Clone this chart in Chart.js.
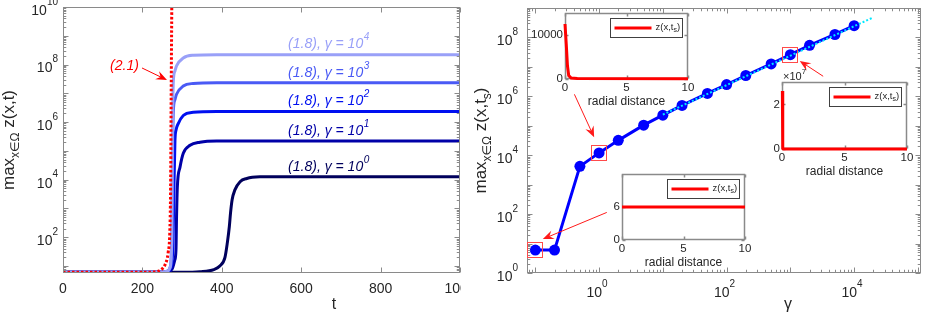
<!DOCTYPE html>
<html>
<head>
<meta charset="utf-8">
<script src="https://cdn.jsdelivr.net/npm/chart.js@4.4.1/dist/chart.umd.min.js"></script>
<style>
  html, body { margin: 0; padding: 0; background: #fff; }
  #wrap { position: relative; width: 926px; height: 313px; overflow: hidden; }
  canvas { position: absolute; }
</style>
</head>
<body>
<div id="wrap">
  <canvas id="left" width="461" height="313" style="left:0;top:0"></canvas>
  <canvas id="right" width="466" height="313" style="left:460px;top:0"></canvas>
  <canvas id="in1" width="165" height="115" style="left:530px;top:0"></canvas>
  <canvas id="in2" width="156" height="115" style="left:770px;top:65px"></canvas>
  <canvas id="in3" width="155" height="110" style="left:600px;top:165px"></canvas>
</div>
<script>
// ---- left panel: max z(x,t) against t, one curve per gamma ----
const tG0 = [0, 300, 345, 380, 395, 408, 414, 419, 422, 426, 433, 446, 463, 496, 550, 1000];
const zG0 = [6, 6, 6.3, 7.5, 10, 20, 65, 235, 700, 2000, 4400, 8500, 11000, 12500, 12700, 12700];
const tG1 = [0, 240, 265, 275, 281, 284.6, 286, 288, 294.7, 303, 320, 345, 387, 1000];
const zG1 = [6, 6, 6.5, 8, 15, 37, 500, 5500, 27000, 83000, 1.56e5, 2.0e5, 2.2e5, 2.2e5];
const tG2 = [0, 240, 262, 272, 277, 279.5, 282, 285, 290, 303, 328, 387, 1000];
const zG2 = [6, 6, 6.5, 9, 60, 5000, 2.3e5, 5.5e5, 8.7e5, 1.7e6, 2.2e6, 2.35e6, 2.35e6];
const tG3 = [0, 240, 262, 270, 274, 276, 278, 282, 286, 303, 328, 387, 1000];
const zG3 = [6, 6, 6.5, 9, 100, 1e5, 2.5e6, 6e6, 9.3e6, 1.8e7, 2.2e7, 2.35e7, 2.35e7];
const tG4 = [0, 240, 262, 270, 274, 276, 278, 282, 286, 303, 328, 387, 1000];
const zG4 = [6, 6, 6.5, 9, 100, 1e6, 2.7e7, 6e7, 9e7, 1.7e8, 2.1e8, 2.2e8, 2.2e8];
const tBlow = [0, 200, 235, 250, 257, 265, 269, 271, 272.5, 274];
const zBlow = [6, 6, 6.3, 8, 11, 30, 150, 5000, 1e7, 1e10];
const curveColors = ['#00005c', '#0000a8', '#0010f0', '#4a5af5', '#99a0f8'];
const labelExp = ['0', '1', '2', '3', '4'];
const labelT = 567;
const labelZ = [2.8e4, 4.8e5, 5.5e6, 5.2e7, 5.0e8];
const tTicks = [0, 200, 400, 600, 800, 1000];
const leftYTicks = [1e2, 1e4, 1e6, 1e8, 1e10];
const blowText = { t: 191, z: 8.9e7 };
const blowArrow = { from: [199, 7.6e7], to: [262, 2.9e7] };

// ---- right panel: max z(x,t_s) against gamma ----
const gammas = [0.1, 0.2, 0.5, 1, 2, 5, 10, 20, 50, 100, 200, 500, 1000, 2000, 5000, 10000];
const zMax = [6, 6, 4.2e3, 1.2e4, 3.2e4, 1.05e5, 2.3e5, 4.9e5, 1.26e6, 2.5e6, 5.1e6, 1.26e7, 2.6e7, 5.4e7, 1.26e8, 2.5e8];
const fitGamma = [10, 2e4];
const fitZ = [2.4e5, 4.8e8];
const rightXTicks = [1, 1e2, 1e4];
const rightYTicks = [1, 1e2, 1e4, 1e6, 1e8];
const boxedPoints = [0, 3, 12];
const arrowFrom = [[0.41, 1.17e6], [1.32, 114], [3270, 4.8e6]];
const arrowTo = [[0.836, 4.07e4], [0.131, 14.2], [1403, 1.6e7]];

// ---- insets: z(x,t_s) against radial distance ----
const r1 = [0, 0.1, 0.2, 0.3, 0.5, 1, 10];
const z1 = [12500, 8000, 3000, 800, 200, 100, 50];
const r2 = [0.03, 0.06, 0.1, 10];
const z2 = [2.6e7, 2e5, 0, 0];
const r3 = [0, 10];
const z3 = [6, 6];
const insetXTicks = [0, 5, 10];

const FONT = '"Liberation Sans", Arial, "DejaVu Sans", sans-serif';
const AX = '#8a8a8a';
const TXT = '#262626';
const f = (size, italic) => (italic ? 'italic ' : '') + size + 'px ' + FONT;
const pts = (xs, ys) => xs.map((v, i) => ({ x: v, y: ys[i] }));

function pow10(ctx, exp, x, y, align, bs, ss, color) {
  ctx.font = f(bs); const wb = ctx.measureText('10').width;
  ctx.font = f(ss); const we = ctx.measureText(exp).width;
  const tot = wb + we;
  const x0 = align === 'right' ? x - tot : align === 'center' ? x - tot / 2 : x;
  ctx.fillStyle = color; ctx.textBaseline = 'middle'; ctx.textAlign = 'left';
  ctx.font = f(bs); ctx.fillText('10', x0, y + 4);
  ctx.font = f(ss); ctx.fillText(exp, x0 + wb, y - 5);
}

function decades(s) {
  const out = [];
  for (let k = Math.ceil(Math.log10(s.min)); k <= Math.floor(Math.log10(s.max)); k++) out.push(Math.pow(10, k));
  return out;
}
function logMinor(s) {
  const out = [];
  for (let k = Math.floor(Math.log10(s.min)); k <= Math.ceil(Math.log10(s.max)); k++)
    for (let m = 2; m <= 9; m++) { const v = m * Math.pow(10, k); if (v >= s.min && v <= s.max) out.push(v); }
  return out;
}

function frame(chart, o) {
  const { ctx, chartArea: a } = chart;
  const sx = chart.scales.x, sy = chart.scales.y;
  const L = Math.round(a.left) + 0.5, R = Math.round(a.right) - 0.5;
  const T = Math.round(a.top) + 0.5, B = Math.round(a.bottom) - 0.5;
  ctx.save();
  ctx.strokeStyle = o.color; ctx.lineWidth = o.lw || 1;
  ctx.beginPath();
  const xt = (v, len) => { const p = Math.round(sx.getPixelForValue(v)) + 0.5; ctx.moveTo(p, B); ctx.lineTo(p, B - len); ctx.moveTo(p, T); ctx.lineTo(p, T + len); };
  const yt = (v, len) => { const p = Math.round(sy.getPixelForValue(v)) + 0.5; ctx.moveTo(L, p); ctx.lineTo(L + len, p); ctx.moveTo(R, p); ctx.lineTo(R - len, p); };
  o.xMajor.forEach(v => xt(v, o.len));
  o.yMajor.forEach(v => yt(v, o.len));
  if (o.xLog) logMinor(sx).forEach(v => xt(v, o.len * 0.55));
  if (o.yLog) logMinor(sy).forEach(v => yt(v, o.len * 0.55));
  ctx.stroke();
  ctx.strokeRect(L, T, R - L, B - T);
  ctx.restore();
}

function rotTitle(ctx, x, y, parts, color) {
  ctx.save(); ctx.translate(x, y); ctx.rotate(-Math.PI / 2);
  const ws = parts.map(p => { ctx.font = f(p[1]); return ctx.measureText(p[0]).width; });
  let cx = -ws.reduce((s, w) => s + w, 0) / 2;
  ctx.textBaseline = 'alphabetic'; ctx.textAlign = 'left'; ctx.fillStyle = color;
  parts.forEach((p, i) => { ctx.font = f(p[1]); ctx.fillText(p[0], cx, p[2]); cx += ws[i]; });
  ctx.restore();
}

function arrow(ctx, x1, y1, x2, y2, color) {
  const ang = Math.atan2(y2 - y1, x2 - x1), len = 11, hw = 4.5;
  const c = Math.cos(ang), s = Math.sin(ang);
  ctx.save();
  ctx.strokeStyle = color; ctx.fillStyle = color; ctx.lineWidth = 1;
  ctx.beginPath(); ctx.moveTo(x1, y1); ctx.lineTo(x2 - c * len * 0.6, y2 - s * len * 0.6); ctx.stroke();
  const bx = x2 - c * len, by = y2 - s * len;
  ctx.beginPath();
  ctx.moveTo(x2, y2);
  ctx.lineTo(bx - s * hw, by + c * hw);
  ctx.lineTo(x2 - c * len * 0.65, y2 - s * len * 0.65);
  ctx.lineTo(bx + s * hw, by - c * hw);
  ctx.closePath(); ctx.fill();
  ctx.restore();
}

const baseOpts = (pad, xs, ys) => ({
  responsive: false, animation: false, devicePixelRatio: 1,
  layout: { padding: pad },
  plugins: { legend: { display: false }, tooltip: { enabled: false } },
  elements: { point: { radius: 0 } },
  scales: { x: Object.assign({ display: false }, xs), y: Object.assign({ display: false }, ys) }
});

// ---------------- left chart ----------------
const leftPlugin = {
  id: 'leftAxes',
  afterDraw(chart) {
    const { ctx, chartArea: a, scales: { x, y } } = chart;
    frame(chart, { xMajor: tTicks, yMajor: decades(y), yLog: true, len: 5, color: AX });
    ctx.save();
    ctx.fillStyle = TXT; ctx.font = f(14); ctx.textAlign = 'center'; ctx.textBaseline = 'middle';
    tTicks.forEach(v => ctx.fillText(String(v), x.getPixelForValue(v), a.bottom + 16));
    leftYTicks.forEach(v => pow10(ctx, String(Math.round(Math.log10(v))), a.left - 5, y.getPixelForValue(v), 'right', 14, 10, TXT));
    ctx.fillStyle = TXT; ctx.font = f(16); ctx.textAlign = 'center'; ctx.textBaseline = 'middle';
    ctx.fillText('t', a.left + 271, a.bottom + 32);
    rotTitle(ctx, a.left - 49, (a.top + a.bottom) / 2, [['max', 17, 0], ['x\u2208\u03a9', 12, 5], [' z(x,t)', 17, 0]], TXT);
    labelZ.forEach((v, i) => {
      const s = '(1.8), \u03b3 = 10';
      const px = x.getPixelForValue(labelT), py = y.getPixelForValue(v);
      ctx.fillStyle = curveColors[i]; ctx.textAlign = 'left'; ctx.textBaseline = 'middle';
      ctx.font = f(14, true); ctx.fillText(s, px, py);
      const w = ctx.measureText(s).width;
      ctx.font = f(10, true); ctx.fillText(labelExp[i], px + w + 0.5, py - 7);
    });
    ctx.fillStyle = '#ff0000'; ctx.font = f(14, true); ctx.textAlign = 'right';
    ctx.fillText('(2.1)', x.getPixelForValue(blowText.t), y.getPixelForValue(blowText.z));
    arrow(ctx, x.getPixelForValue(blowArrow.from[0]), y.getPixelForValue(blowArrow.from[1]),
      x.getPixelForValue(blowArrow.to[0]), y.getPixelForValue(blowArrow.to[1]), '#ff0000');
    ctx.restore();
  }
};

const gCurves = [[tG0, zG0], [tG1, zG1], [tG2, zG2], [tG3, zG3], [tG4, zG4]];
new Chart(document.getElementById('left'), {
  type: 'line',
  data: {
    datasets: [
      { data: pts(tBlow, zBlow), borderColor: '#ff0000', borderWidth: 3, borderDash: [2.5, 2], cubicInterpolationMode: 'monotone' }
    ].concat(gCurves.slice().reverse().map((c, i) => ({
      data: pts(c[0], c[1]), borderColor: curveColors[4 - i], borderWidth: 3, cubicInterpolationMode: 'monotone'
    })))
  },
  options: baseOpts({ left: 63, right: 1, top: 7, bottom: 40 },
    { type: 'linear', min: 0, max: 1000 },
    { type: 'logarithmic', min: 5.7, max: 1e10 }),
  plugins: [leftPlugin]
});

// ---------------- right chart ----------------
const rightPlugin = {
  id: 'rightAxes',
  afterDraw(chart) {
    const { ctx, chartArea: a, scales: { x, y } } = chart;
    frame(chart, { xMajor: decades(x), yMajor: decades(y), xLog: true, yLog: true, len: 5, color: AX });
    ctx.save();
    rightXTicks.forEach(v => pow10(ctx, String(Math.round(Math.log10(v))), x.getPixelForValue(v) - 2, a.bottom + 16, 'center', 14, 10, TXT));
    rightYTicks.forEach(v => pow10(ctx, String(Math.round(Math.log10(v))), a.left - 9, y.getPixelForValue(v), 'right', 14, 10, TXT));
    ctx.fillStyle = TXT; ctx.font = f(16); ctx.textAlign = 'center'; ctx.textBaseline = 'middle';
    ctx.fillText('\u03b3', a.left + 261, a.bottom + 32);
    rotTitle(ctx, a.left - 41.5, (a.top + a.bottom) / 2,
      [['max', 17, 0], ['x\u2208\u03a9', 12, 5], [' z(x,t', 17, 0], ['s', 12, 5], [')', 17, 0]], TXT);
    ctx.strokeStyle = '#ff4a4a'; ctx.lineWidth = 1;
    boxedPoints.forEach(i => {
      const px = Math.round(x.getPixelForValue(gammas[i])), py = Math.round(y.getPixelForValue(zMax[i]));
      ctx.strokeRect(px - 7.5, py - 7.5, 15, 15);
    });
    arrowFrom.forEach((p, i) => arrow(ctx, x.getPixelForValue(p[0]), y.getPixelForValue(p[1]),
      x.getPixelForValue(arrowTo[i][0]), y.getPixelForValue(arrowTo[i][1]), '#ff1a1a'));
    ctx.restore();
  }
};

new Chart(document.getElementById('right'), {
  type: 'line',
  data: {
    datasets: [
      { data: pts(fitGamma, fitZ), borderColor: '#00e8ff', borderWidth: 2, borderDash: [2, 2] },
      { data: pts(gammas, zMax), borderColor: '#0000ff', borderWidth: 3, pointRadius: 5.5,
        pointBackgroundColor: '#0000ff', pointBorderWidth: 0 }
    ]
  },
  options: baseOpts({ left: 67, right: 1, top: 8, bottom: 40 },
    { type: 'logarithmic', min: 0.074, max: 1.1e5 },
    { type: 'logarithmic', min: 1, max: 1e9 }),
  plugins: [rightPlugin]
});

// ---------------- insets ----------------
function insetPlugin(yTicks, yLabels, times7) {
  return {
    id: 'insetAxes',
    beforeDatasetsDraw(chart) {
      const { ctx, chartArea: a } = chart;
      ctx.save(); ctx.fillStyle = '#fff'; ctx.fillRect(a.left, a.top, a.right - a.left, a.bottom - a.top); ctx.restore();
      frame(chart, { xMajor: insetXTicks, yMajor: yTicks, len: 3, color: AX, lw: 1.5 });
    },
    afterDraw(chart) {
      const { ctx, chartArea: a, scales: { x, y } } = chart;
      ctx.save();
      ctx.fillStyle = TXT; ctx.font = f(11.5); ctx.textBaseline = 'middle';
      ctx.textAlign = 'center';
      insetXTicks.forEach(v => ctx.fillText(String(v), x.getPixelForValue(v), a.bottom + 9));
      ctx.textAlign = 'right';
      yTicks.forEach((v, i) => ctx.fillText(yLabels[i], a.left - 2, y.getPixelForValue(v)));
      ctx.textAlign = 'center'; ctx.font = f(12);
      ctx.fillText('radial distance', (a.left + a.right) / 2, a.bottom + 23);
      if (times7) {
        ctx.textAlign = 'left'; ctx.font = f(11);
        ctx.fillText('\u00d710', a.left + 1, a.top - 5);
        const w = ctx.measureText('\u00d710').width;
        ctx.font = f(8); ctx.fillText('7', a.left + 1 + w, a.top - 10);
      }
      // legend
      const bx = Math.round(a.right - 78) + 0.5, by = Math.round(a.top + 5) + 0.5;
      ctx.fillStyle = '#fff'; ctx.fillRect(bx, by, 72, 19);
      ctx.strokeStyle = '#404040'; ctx.lineWidth = 1; ctx.strokeRect(bx, by, 72, 19);
      ctx.strokeStyle = '#ff0000'; ctx.lineWidth = 3;
      ctx.beginPath(); ctx.moveTo(bx + 4, by + 9.5); ctx.lineTo(bx + 41, by + 9.5); ctx.stroke();
      ctx.fillStyle = TXT; ctx.textAlign = 'left'; ctx.font = f(9.5);
      let tx = bx + 45;
      ctx.fillText('z(x,t', tx, by + 9); tx += ctx.measureText('z(x,t').width;
      ctx.font = f(7); ctx.fillText('s', tx, by + 12); tx += ctx.measureText('s').width;
      ctx.font = f(9.5); ctx.fillText(')', tx, by + 9);
      ctx.restore();
    }
  };
}

function makeInset(id, rs, zs, yMax, pad, yTicks, yLabels, times7) {
  new Chart(document.getElementById(id), {
    type: 'line',
    data: { datasets: [{ data: pts(rs, zs), borderColor: '#ff0000', borderWidth: 3, clip: false }] },
    options: baseOpts(pad, { type: 'linear', min: 0, max: 10 }, { type: 'linear', min: 0, max: yMax }),
    plugins: [insetPlugin(yTicks, yLabels, times7)]
  });
}

makeInset('in1', r1, z1, 15000, { left: 35, right: 7, top: 13, bottom: 36 }, [0, 10000], ['0', '10000'], false);
makeInset('in2', r2, z2, 3e7, { left: 12, right: 19, top: 17, bottom: 31 }, [0, 2e7], ['0', '2'], true);
makeInset('in3', r3, z3, 12, { left: 22, right: 10, top: 9, bottom: 35 }, [0, 6], ['0', '6'], false);
</script>
</body>
</html>
